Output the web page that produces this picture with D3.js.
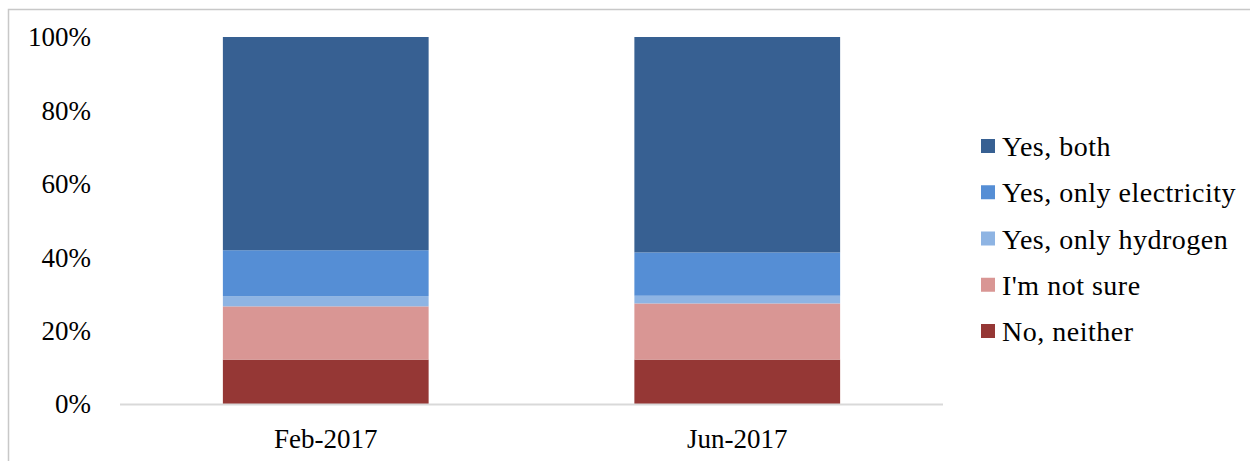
<!DOCTYPE html>
<html>
<head>
<meta charset="utf-8">
<script src="https://cdn.jsdelivr.net/npm/d3@7"></script>
<style>
  html, body { margin: 0; padding: 0; background: #fff; }
  svg { display: block; }
  text { font-family: "Liberation Serif", "Times New Roman", serif; fill: #000; }
</style>
</head>
<body>
<svg id="chart" width="1250" height="461"></svg>
<script>
// ---- data ----
const categories = ["Feb-2017", "Jun-2017"];
const seriesNames = ["No, neither", "I'm not sure", "Yes, only hydrogen", "Yes, only electricity", "Yes, both"];
const noNeither = [12.1, 12.1];
const notSure = [14.5, 15.3];
const onlyHydrogen = [2.8, 2.1];
const onlyElectricity = [12.5, 11.8];
const yesBoth = [58.1, 58.7];
const yTicks = [0, 20, 40, 60, 80, 100];
const colors = ["#953735", "#D99694", "#8EB4E3", "#558ED5", "#376092"];

const seriesValues = [noNeither, notSure, onlyHydrogen, onlyElectricity, yesBoth];
const table = categories.map((c, i) => {
  const row = { category: c };
  seriesNames.forEach((s, j) => { row[s] = seriesValues[j][i]; });
  return row;
});

const svg = d3.select("#chart");

// outer frame (only top and left visible)
svg.append("rect")
  .attr("x", 8.5).attr("y", 9.5)
  .attr("width", 1300).attr("height", 500)
  .attr("fill", "none").attr("stroke", "#c8c8c8").attr("stroke-width", 1.5);

const plot = { left: 120, right: 943, top: 37, bottom: 404 };

const x = d3.scaleBand().domain(categories).range([plot.left, plot.right]).paddingInner(0.5).paddingOuter(0.25);
const y = d3.scaleLinear().domain([0, 100]).range([plot.bottom, plot.top]);

const stack = d3.stack().keys(seriesNames);
const stacked = stack(table);

svg.append("g").selectAll("g")
  .data(stacked)
  .join("g")
  .attr("fill", (d, i) => colors[i])
  .selectAll("rect")
  .data(d => d)
  .join("rect")
  .attr("x", d => x(d.data.category))
  .attr("width", x.bandwidth())
  .attr("y", d => y(d[1]))
  .attr("height", d => y(d[0]) - y(d[1]));

// baseline
svg.append("line")
  .attr("x1", plot.left).attr("x2", plot.right)
  .attr("y1", y(0) + 0.5).attr("y2", y(0) + 0.5)
  .attr("stroke", "#d9d9d9").attr("stroke-width", 2);

// y axis labels
const yAxis = d3.axisLeft(y).tickValues(yTicks).tickFormat(d => d + "%").tickSize(0).tickPadding(0);
const yg = svg.append("g").attr("transform", "translate(91,0)").call(yAxis);
yg.select(".domain").remove();
yg.selectAll("text")
  .style("font-family", '"Liberation Serif", "Times New Roman", serif')
  .style("font-size", "27px").attr("fill", "#000").attr("dy", "0.33em");

// x axis labels
const xAxis = d3.axisBottom(x).tickSize(0).tickPadding(0);
const xg = svg.append("g").attr("transform", "translate(0,448)").call(xAxis);
xg.select(".domain").remove();
xg.selectAll("text")
  .style("font-family", '"Liberation Serif", "Times New Roman", serif')
  .style("font-size", "27px").attr("fill", "#000").attr("dy", 0).attr("y", 0);

// legend
const legendOrder = seriesNames.slice().reverse();
const legendColors = colors.slice().reverse();
const lg = svg.append("g");
const rowY = d3.scalePoint().domain(legendOrder).range([156, 341]);
legendOrder.forEach((name, i) => {
  const by = rowY(name);
  lg.append("rect")
    .attr("x", 981).attr("y", by - 17)
    .attr("width", 14).attr("height", 14)
    .attr("fill", legendColors[i]);
  lg.append("text")
    .attr("x", 1002).attr("y", by)
    .style("font-size", "28px")
    .style("letter-spacing", "0.5px")
    .text(name);
});
</script>
</body>
</html>
